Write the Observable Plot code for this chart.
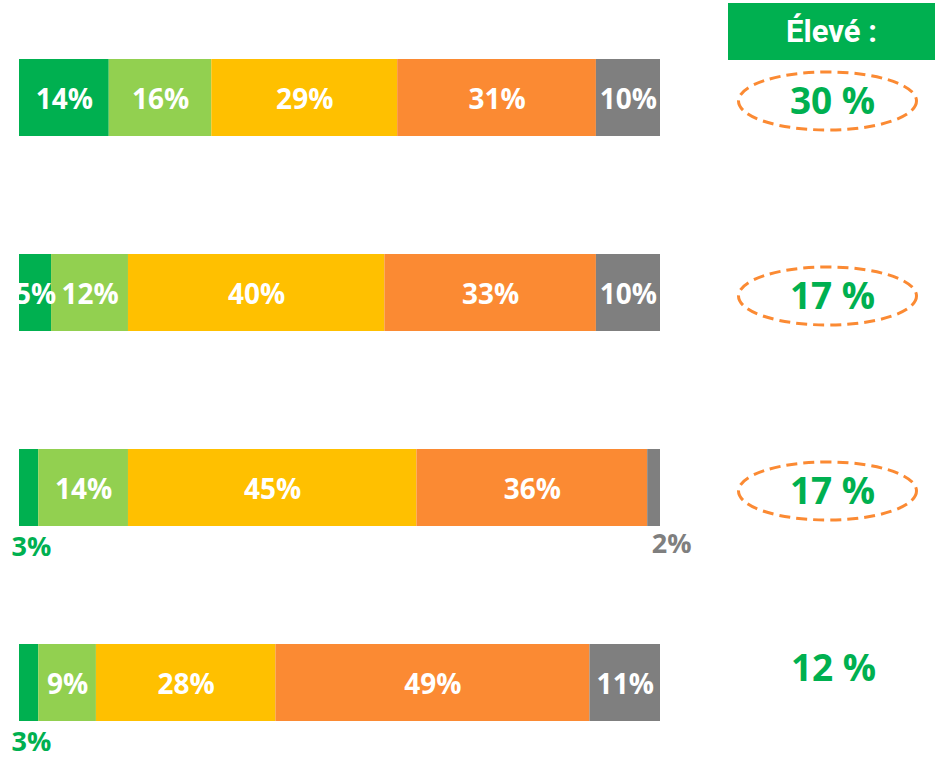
<!DOCTYPE html>
<html><head><meta charset="utf-8">
<script src="https://cdn.jsdelivr.net/npm/d3@7"></script>
<script src="https://cdn.jsdelivr.net/npm/@observablehq/plot@0.6"></script>
<style>
body{margin:0;background:#fff;}
#wrap{position:relative;width:937px;height:758px;overflow:hidden;}
#head{position:absolute;left:728px;top:3px;width:207px;height:57px;background:#00B050;color:#fff;font:bold 31px "Liberation Sans Narrow","Roboto","Noto Sans",sans-serif;display:flex;align-items:center;justify-content:center;z-index:2;}
</style></head><body>
<div id="wrap"><div id="head">Élevé :</div></div>
<script>
// categories (rows) and levels (stack segments)
const categories = ["Q1", "Q2", "Q3", "Q4"];
const levels = ["Très faible", "Faible", "Moyen", "Élevé", "NSP"];
const colors = ["#00B050", "#92D050", "#FFC000", "#FB8A33", "#7F7F7F"];
// series values (% per level), one array per row
const row1 = [14, 16, 29, 31, 10];
const row2 = [5, 12, 40, 33, 10];
const row3 = [3, 14, 45, 36, 2];
const row4 = [3, 9, 28, 49, 11];
// right column "Élevé" values and whether circled
const highLabels = ["30 %", "17 %", "17 %", "12 %"];
const circled = [true, true, true, false];

const rows = [row1, row2, row3, row4];
const data = [];
rows.forEach((r, i) => r.forEach((v, j) => data.push({cat: categories[i], level: levels[j], value: v, idx: j})));
const right = categories.map((c, i) => ({cat: c, label: highLabels[i], circled: circled[i]}));

const k = 0.5523;
const ellipse = {
  draw(ctx) {
    const rx = 89, ry = 29;
    ctx.moveTo(rx, 0);
    ctx.bezierCurveTo(rx, k * ry, k * rx, ry, 0, ry);
    ctx.bezierCurveTo(-k * rx, ry, -rx, k * ry, -rx, 0);
    ctx.bezierCurveTo(-rx, -k * ry, -k * rx, -ry, 0, -ry);
    ctx.bezierCurveTo(k * rx, -ry, rx, -k * ry, rx, 0);
    ctx.closePath();
  }
};

const font = '"Open Sans", "Noto Sans", sans-serif';
const small = d => d.value < 4;

const chart = Plot.plot({
  width: 937,
  height: 758,
  marginLeft: 19,
  marginRight: 277,
  marginTop: 58,
  marginBottom: 37,
  x: {domain: [0, 100], axis: null},
  y: {domain: categories, axis: null, paddingInner: 0.606, paddingOuter: 0},
  color: {domain: levels, range: colors},
  style: {fontFamily: font, background: "white"},
  marks: [
    Plot.barX(data, Plot.stackX({x: "value", y: "cat", fill: "level", order: null})),
    Plot.text(data, Plot.stackX({
      x: "value", y: "cat", z: "level", order: null,
      text: d => small(d) ? "" : d.value + "%",
      fill: "white", fontSize: 28, fontWeight: 700, dy: 2
    })),
    Plot.text(data, Plot.stackX1({
      x: "value", y: "cat", z: "level", order: null,
      text: d => small(d) && d.idx === 0 ? d.value + "%" : "",
      fill: colors[0], fontSize: 27, fontWeight: 700, textAnchor: "start", dx: -8, dy: 59
    })),
    Plot.text(data, Plot.stackX2({
      x: "value", y: "cat", z: "level", order: null,
      text: d => small(d) && d.idx === 4 ? d.value + "%" : "",
      fill: colors[4], fontSize: 27, fontWeight: 700, textAnchor: "end", dx: 31, dy: 56
    })),
    Plot.dot(right.filter(d => d.circled), {
      y: "cat", frameAnchor: "right", dx: 167, dy: 3, symbol: ellipse,
      stroke: "#FB8A33", strokeWidth: 3, strokeDasharray: "11,6", fill: "none"
    }),
    Plot.text(right.filter(d => d.circled), {
      y: "cat", frameAnchor: "right", dx: 172, dy: 4, text: "label", textAnchor: "middle",
      fill: "#00B050", fontSize: 37, fontWeight: 700
    }),
    Plot.text(right.filter(d => !d.circled), {
      y: "cat", frameAnchor: "right", dx: 173, dy: -14, text: "label", textAnchor: "middle",
      fill: "#00B050", fontSize: 37, fontWeight: 700
    })
  ]
});
document.getElementById("wrap").appendChild(chart);
</script>
</body></html>
